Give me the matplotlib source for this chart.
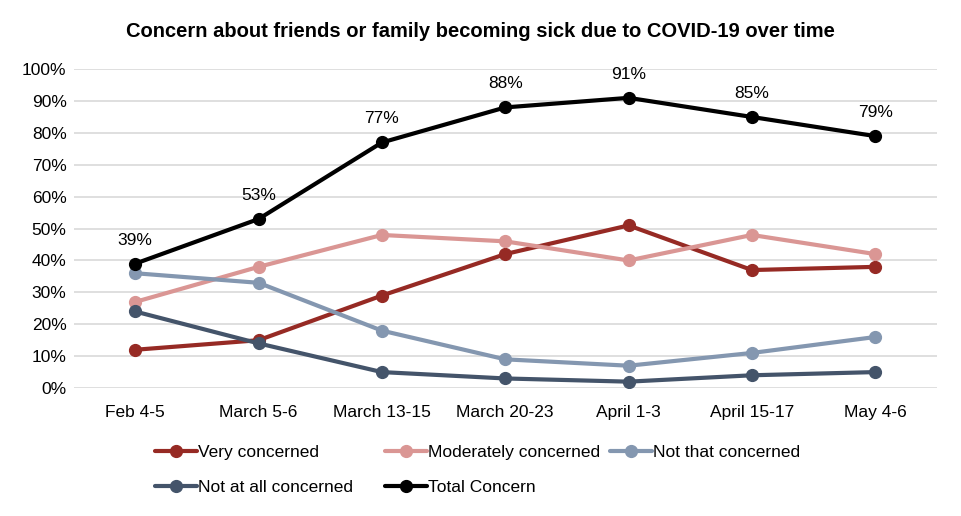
import matplotlib.pyplot as plt
from matplotlib.ticker import PercentFormatter

plt.rcParams['font.family'] = ['Liberation Sans', 'DejaVu Sans']

# survey waves
waves = ['Feb 4-5', 'March 5-6', 'March 13-15', 'March 20-23', 'April 1-3', 'April 15-17', 'May 4-6']

very = [12, 15, 29, 42, 51, 37, 38]
moderately = [27, 38, 48, 46, 40, 48, 42]
not_that = [36, 33, 18, 9, 7, 11, 16]
not_at_all = [24, 14, 5, 3, 2, 4, 5]
total = [39, 53, 77, 88, 91, 85, 79]

series = [
    ('Very concerned', very, '#962A24'),
    ('Moderately concerned', moderately, '#DA9694'),
    ('Not that concerned', not_that, '#8497B0'),
    ('Not at all concerned', not_at_all, '#44546A'),
    ('Total Concern', total, '#000000'),
]

fig = plt.figure(figsize=(9.61, 5.16), dpi=100)
ax = fig.add_axes([0.0765, 0.248, 0.8985, 0.618])

x = list(range(len(waves)))
lines = []
for name, vals, col in series:
    ln, = ax.plot(x, vals, color=col, lw=3, marker='o', ms=8.5, label=name,
                  solid_capstyle='round', zorder=3)
    lines.append(ln)

for xi, v in zip(x, total):
    ax.annotate(f'{v}%', (xi, v), xytext=(0, 17), textcoords='offset points',
                ha='center', va='center', fontsize=12.5)

ax.set_ylim(0, 100)
ax.set_xlim(-0.5, len(waves) - 0.5)
ax.set_yticks(range(0, 101, 10))
ax.yaxis.set_major_formatter(PercentFormatter(decimals=0))
ax.set_xticks(x)
ax.set_xticklabels(waves)
ax.tick_params(axis='y', length=0, labelsize=12.5, pad=5)
ax.tick_params(axis='x', length=0, labelsize=12.5, pad=12)
ax.grid(axis='y', color='#D9D9D9', lw=1.2, zorder=0)
for s in ax.spines.values():
    s.set_visible(False)

fig.suptitle('Concern about friends or family becoming sick due to COVID-19 over time',
             x=0.5, y=0.958, fontsize=14.5, fontweight='bold')

# legend laid out in fixed-width columns like the original
cols = [([lines[0], lines[3]], 155), ([lines[1], lines[4]], 385), ([lines[2]], 610)]
for hs, px in cols:
    leg = fig.legend(handles=hs, labels=[h.get_label() for h in hs],
                     loc='upper left', bbox_to_anchor=(px / 961, 1 - 445 / 516),
                     frameon=False, fontsize=12.5, handlelength=2.4,
                     handletextpad=0.1, labelspacing=1.15, borderpad=0,
                     borderaxespad=0)

fig.savefig('out.png', dpi=100)
